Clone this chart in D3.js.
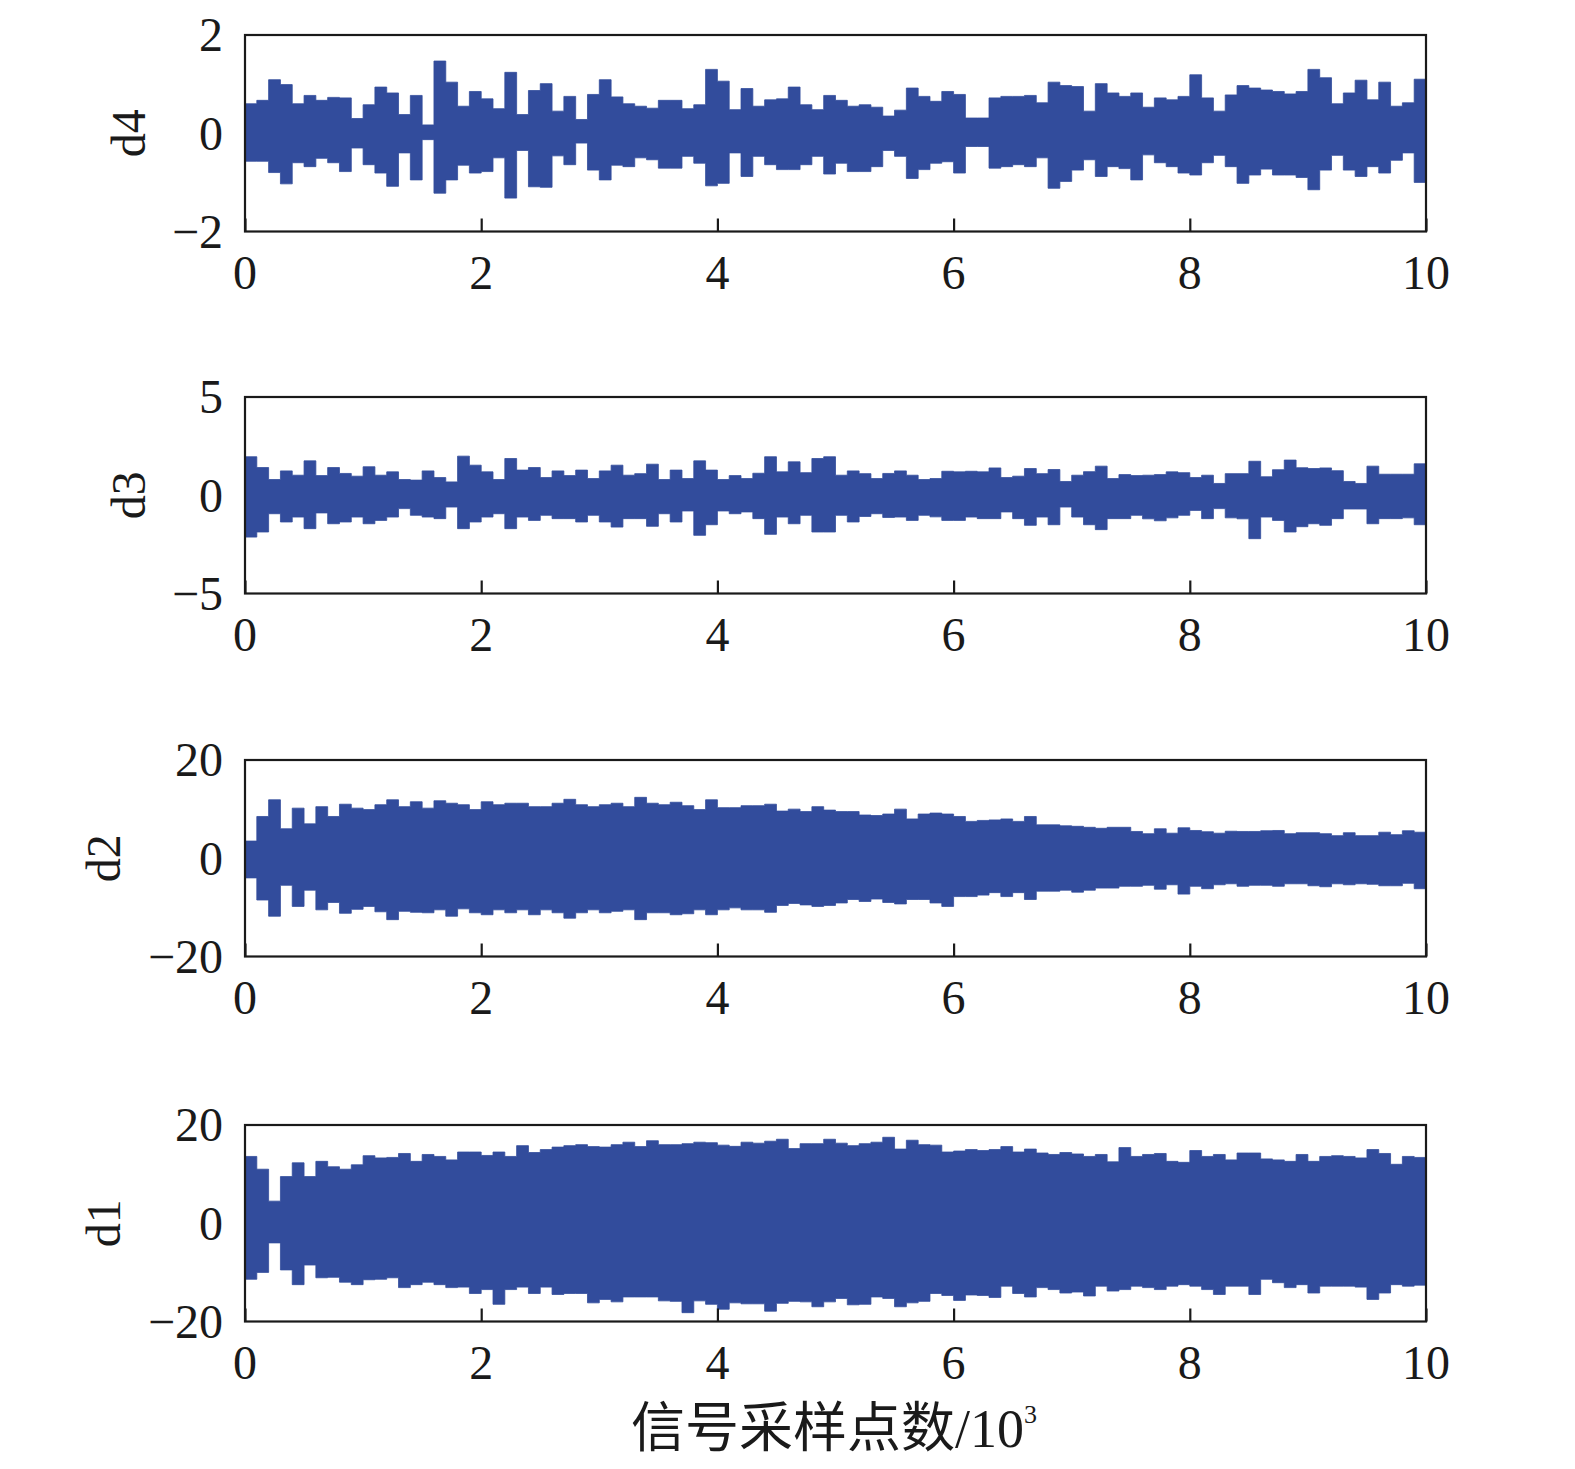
<!DOCTYPE html>
<html><head><meta charset="utf-8">
<script src="https://cdn.jsdelivr.net/npm/d3@7"></script>
<style>body{margin:0;background:#fff}</style>
</head><body>
<svg id="chart" width="1575" height="1469"></svg>
<script>
// Envelope (max/min per 100-sample bin), 100 bins over 0..10×10³ samples
const d4Upper=[0.6,0.67,1.09,0.99,0.6,0.77,0.67,0.73,0.72,0.3,0.58,0.94,0.82,0.38,0.77,0.17,1.47,1.04,0.55,0.85,0.70,0.5,1.24,0.38,0.87,1.01,0.45,0.75,0.28,0.79,1.09,0.74,0.6,0.55,0.51,0.67,0.67,0.5,0.58,1.30,1.06,0.48,0.91,0.55,0.68,0.7,0.94,0.58,0.48,0.77,0.67,0.55,0.58,0.53,0.35,0.47,0.92,0.75,0.65,0.85,0.79,0.31,0.31,0.72,0.75,0.75,0.77,0.62,1.04,0.97,0.95,0.45,1.01,0.82,0.75,0.82,0.53,0.72,0.68,0.75,1.19,0.72,0.45,0.78,0.97,0.92,0.88,0.85,0.8,0.85,1.30,1.13,0.6,0.82,1.08,0.68,1.04,0.55,0.62,1.1];
const d4Lower=[-0.57,-0.57,-0.8,-1.03,-0.6,-0.68,-0.51,-0.6,-0.78,-0.3,-0.64,-0.81,-1.08,-0.4,-0.95,-0.13,-1.22,-0.95,-0.65,-0.81,-0.78,-0.5,-1.32,-0.35,-1.09,-1.1,-0.46,-0.64,-0.2,-0.75,-0.95,-0.65,-0.68,-0.5,-0.54,-0.71,-0.71,-0.47,-0.61,-1.07,-1.02,-0.4,-0.88,-0.47,-0.64,-0.74,-0.74,-0.64,-0.47,-0.83,-0.61,-0.78,-0.78,-0.68,-0.35,-0.47,-0.92,-0.74,-0.61,-0.58,-0.81,-0.27,-0.27,-0.71,-0.68,-0.64,-0.68,-0.5,-1.12,-0.98,-0.75,-0.54,-0.88,-0.68,-0.72,-0.95,-0.44,-0.6,-0.68,-0.81,-0.85,-0.6,-0.45,-0.68,-1.02,-0.85,-0.73,-0.85,-0.85,-0.9,-1.15,-0.75,-0.45,-0.75,-0.88,-0.68,-0.81,-0.55,-0.4,-1.0];
const d3Upper=[1.96,1.41,0.8,1.24,1.02,1.75,1.0,1.41,1.11,0.97,1.45,1.02,1.19,0.8,0.77,1.24,0.9,0.68,1.99,1.53,1.19,0.8,1.87,1.28,1.41,0.9,1.24,1.0,1.28,0.85,1.24,1.53,1.02,1.1,1.58,0.8,1.28,0.85,1.75,1.28,0.8,1.0,0.85,1.12,1.96,1.19,1.7,1.15,1.87,1.96,1.02,1.24,1.1,0.85,1.11,1.24,1.02,0.8,0.85,1.22,1.19,1.22,1.19,1.39,0.9,0.97,1.36,1.1,1.31,0.7,1.02,1.2,1.48,0.85,1.05,1.0,1.02,1.05,1.19,1.15,0.9,1.02,0.6,1.1,1.1,1.73,0.94,1.3,1.79,1.4,1.36,1.39,1.25,0.7,0.6,1.48,1.07,1.07,1.07,1.6];
const d3Lower=[-2.13,-1.87,-0.94,-1.36,-1.11,-1.7,-0.9,-1.45,-1.36,-1.11,-1.45,-1.28,-1.11,-0.68,-1.02,-1.11,-1.19,-0.6,-1.7,-1.36,-1.11,-0.94,-1.7,-1.11,-1.28,-1.02,-1.19,-1.19,-1.36,-1.02,-1.36,-1.62,-1.19,-1.19,-1.58,-0.94,-1.36,-0.8,-2.04,-1.5,-0.8,-0.94,-0.85,-1.19,-1.99,-1.11,-1.45,-1.02,-1.87,-1.87,-1.02,-1.36,-1.08,-0.94,-1.13,-1.11,-1.28,-1.02,-1.1,-1.28,-1.28,-1.11,-1.19,-1.19,-0.85,-1.19,-1.53,-1.11,-1.5,-0.6,-1.11,-1.5,-1.75,-1.19,-1.19,-1.02,-1.2,-1.3,-1.15,-1.02,-0.77,-1.19,-0.68,-1.15,-1.2,-2.21,-1.11,-1.28,-1.87,-1.6,-1.45,-1.53,-1.19,-0.7,-0.7,-1.45,-1.19,-1.19,-1.15,-1.5];
const d2Upper=[3.5,8.5,11.9,6.0,10.2,7.0,10.5,8.5,11.0,10.2,9.9,10.9,11.9,10.5,11.5,10.2,11.7,11.2,10.9,9.9,11.5,10.9,11.2,11.2,10.5,10.5,11.2,12.0,10.9,10.5,10.9,11.2,10.5,12.4,11.2,10.9,11.4,10.7,9.9,11.9,10.3,10.3,10.7,10.7,11.0,9.6,10.0,9.5,10.5,9.8,9.5,9.5,8.8,8.7,9.0,10.0,8.0,9.0,9.2,9.0,8.5,7.5,7.7,7.8,8.0,7.5,8.5,6.8,6.8,6.6,6.5,6.3,6.1,6.3,6.3,5.45,5.0,6.0,5.1,6.2,5.65,5.4,5.1,5.5,5.45,5.45,5.6,5.65,5.0,5.2,5.2,5.0,4.6,5.2,4.6,4.6,5.3,4.8,5.6,5.3];
const d2Lower=[-4.0,-8.5,-11.8,-5.5,-9.8,-6.5,-10.5,-9.0,-11.2,-10.4,-9.8,-10.9,-12.5,-10.8,-11.0,-11.1,-10.5,-11.8,-10.3,-11.1,-11.5,-10.5,-11.1,-10.5,-11.5,-10.5,-11.1,-12.2,-11.1,-10.5,-11.1,-10.8,-10.5,-12.5,-11.1,-11.1,-11.5,-11.3,-10.5,-11.5,-10.5,-10.1,-10.5,-10.5,-11.0,-9.6,-9.2,-9.5,-9.8,-9.6,-9.1,-8.4,-8.8,-8.3,-9.0,-9.3,-8.4,-8.4,-9.1,-9.8,-7.8,-7.8,-7.5,-7.0,-7.8,-7.0,-8.4,-6.7,-6.7,-6.5,-6.9,-6.5,-6.07,-6.07,-5.7,-5.7,-5.5,-6.3,-5.4,-7.3,-5.7,-6.2,-5.4,-5.2,-5.7,-5.5,-5.5,-5.7,-5.2,-5.2,-5.6,-5.8,-5.2,-5.4,-5.2,-5.3,-5.6,-5.6,-5.1,-6.2];
const d1Upper=[13.6,11.0,4.5,9.5,12.3,9.5,12.6,11.5,11.0,11.9,13.75,13.3,13.4,14.2,12.6,14.0,13.6,12.9,14.5,14.5,13.8,14.5,13.6,15.8,14.4,15.0,15.5,15.8,16.0,15.6,15.5,16.0,16.5,15.6,16.8,16.0,16.0,16.2,16.5,16.4,15.9,15.65,16.5,16.3,16.7,17.1,15.2,16.2,16.2,17.1,16.3,15.8,16.2,16.5,17.5,15.1,16.9,16.0,15.9,14.5,14.7,15.0,14.8,15.0,15.6,14.5,15.1,14.3,14.0,14.4,14.1,13.6,14.0,12.5,15.4,13.6,14.0,14.2,12.6,12.4,14.8,13.6,14.0,12.9,14.3,14.3,13.1,12.9,12.6,14.0,12.6,13.6,13.75,13.6,13.3,15.0,14.2,12.0,13.6,13.4];
const d1Lower=[-11.4,-10.0,-4.0,-9.5,-12.5,-8.5,-11.1,-11.0,-12.0,-12.5,-11.5,-11.4,-11.1,-13.1,-12.5,-12.0,-12.5,-13.1,-13.0,-14.3,-13.5,-16.5,-13.5,-13.0,-14.3,-13.0,-14.5,-14.3,-14.3,-16.2,-15.5,-16.0,-15.0,-15.0,-15.0,-15.8,-15.9,-18.2,-15.8,-16.5,-17.5,-16.2,-16.4,-16.4,-17.9,-16.3,-15.9,-16.0,-17.0,-16.0,-15.3,-16.6,-16.5,-15.0,-15.3,-17.0,-16.2,-15.9,-14.3,-14.7,-15.7,-14.6,-14.7,-15.1,-12.8,-14.3,-15.0,-13.1,-13.5,-14.2,-14.0,-14.8,-12.8,-13.8,-13.5,-12.8,-13.1,-13.5,-12.8,-12.5,-12.8,-13.5,-14.5,-12.8,-12.8,-14.5,-11.4,-12.1,-13.1,-12.5,-14.2,-12.8,-12.8,-12.8,-13.0,-15.5,-14.2,-12.5,-12.8,-12.6];

const panelNames=["d4","d3","d2","d1"];
const panelUpper=[d4Upper,d3Upper,d2Upper,d1Upper];
const panelLower=[d4Lower,d3Lower,d2Lower,d1Lower];
const panelDomains=[[-2,2],[-5,5],[-20,20],[-20,20]];
const xTicks=[0,2,4,6,8,10];
const xTitleCJK="信号采样点数";
const xTitleUnit="/10";
const xTitleSup="3";

const svg=d3.select("#chart");
const left=245,right=1426;
const tops=[35,397,760,1125];
const ph=196.5;
const color="#324c9c";
const serif="'Liberation Serif','Times New Roman',serif";
const x=d3.scaleLinear().domain([0,10]).range([left,right]);

panelNames.forEach((name,k)=>{
  const top=tops[k], bottom=top+ph;
  const dom=panelDomains[k];
  const y=d3.scaleLinear().domain(dom).range([bottom,top]);
  const up=panelUpper[k], lo=panelLower[k];
  const n=up.length;
  const data=up.map((u,i)=>({x:i*10/n,u:u,l:lo[i]}));
  data.push({x:10,u:up[n-1],l:lo[n-1]});
  const g=svg.append("g");
  const cid="clip"+k;
  g.append("clipPath").attr("id",cid).append("rect")
    .attr("x",left).attr("y",top).attr("width",right-left).attr("height",ph);
  const area=d3.area().curve(d3.curveStepAfter)
    .x(d=>x(d.x)).y0(d=>y(d.l)).y1(d=>y(d.u));
  g.append("path").datum(data).attr("clip-path","url(#"+cid+")")
    .attr("d",area).attr("fill",color).attr("stroke",color).attr("stroke-width",0.8);

  g.append("rect").attr("x",left).attr("y",top).attr("width",right-left).attr("height",ph)
    .attr("fill","none").attr("stroke","#1a1a1a").attr("stroke-width",2.2);

  const ax=d3.axisBottom(x).tickValues(xTicks).tickSize(-13).tickPadding(0).tickFormat("");
  const axg=g.append("g").attr("transform",`translate(0,${bottom})`).call(ax);
  axg.select(".domain").remove();
  axg.selectAll(".tick line").attr("stroke","#1a1a1a").attr("stroke-width",2.2);
  xTicks.forEach(t=>{
    g.append("text").attr("x",x(t)).attr("y",bottom+57).attr("text-anchor","middle")
      .attr("font-family",serif).attr("font-size",48).attr("fill","#1a1a1a").text(t);
  });
  const yt=[dom[0],0,dom[1]];
  yt.forEach(v=>{
    g.append("text").attr("x",223).attr("y",y(v)).attr("dy","0.34em").attr("text-anchor","end")
      .attr("font-family",serif).attr("font-size",48).attr("fill","#1a1a1a")
      .text(v<0?"\u2212"+Math.abs(v):String(v));
  });
  const lx=(k<2)?129:104;
  g.append("text").attr("transform",`translate(${lx},${(top+bottom)/2}) rotate(-90)`)
    .attr("dy","0.34em").attr("text-anchor","middle")
    .attr("font-family",serif).attr("font-size",48).attr("fill","#1a1a1a").text(name);
});

const t=svg.append("text").attr("x",834).attr("y",1447).attr("text-anchor","middle")
  .attr("font-size",54).attr("fill","#1a1a1a");
t.append("tspan").attr("font-family","'Noto Sans CJK SC',sans-serif").text(xTitleCJK);
t.append("tspan").attr("font-family",serif).attr("font-size",54).text(xTitleUnit);
t.append("tspan").attr("font-family",serif).attr("font-size",26).attr("dy",-24).text(xTitleSup);
</script>
</body></html>
